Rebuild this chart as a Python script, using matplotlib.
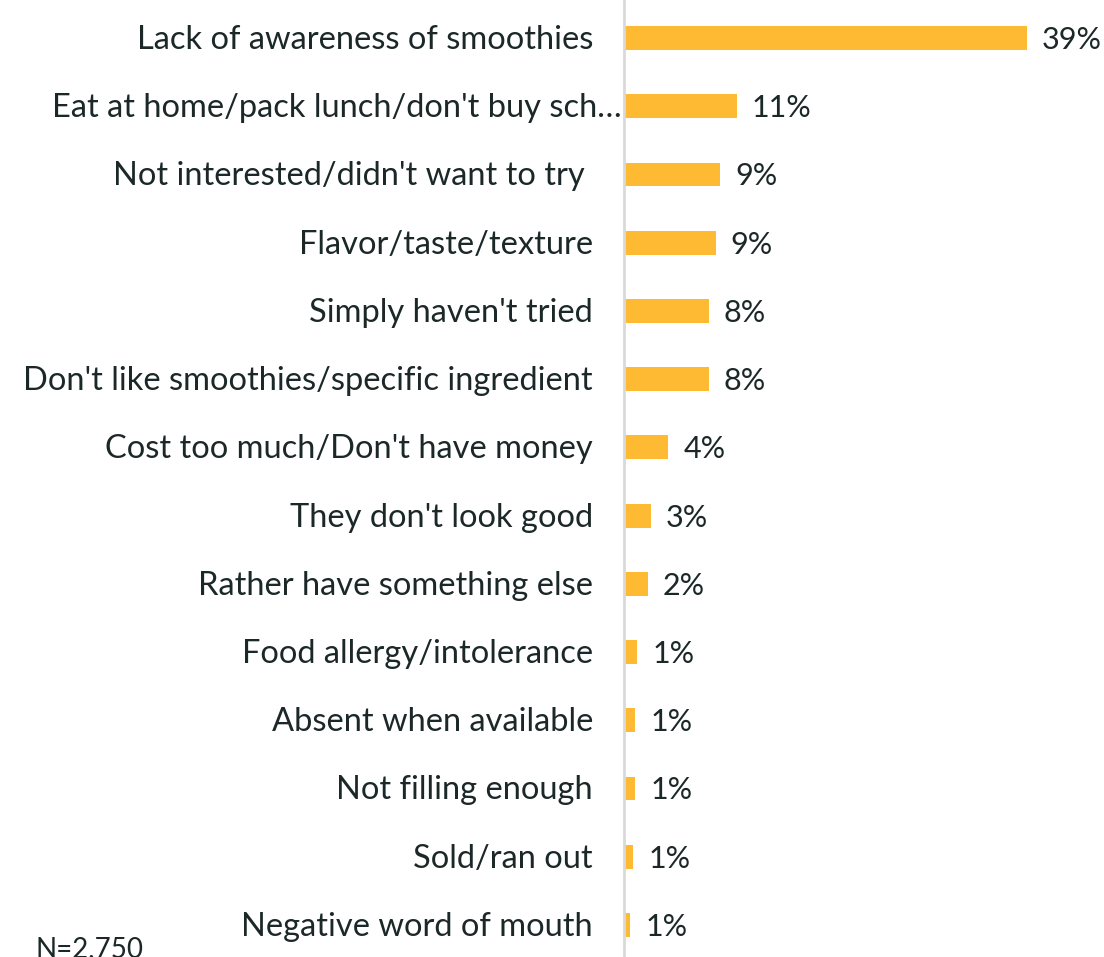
import matplotlib.pyplot as plt
from matplotlib.transforms import offset_copy, blended_transform_factory

reasons = [
    "Lack of awareness of smoothies",
    "Eat at home/pack lunch/don't buy sch\u2026",
    "Not interested/didn't want to try ",
    "Flavor/taste/texture",
    "Simply haven't tried",
    "Don't like smoothies/specific ingredient",
    "Cost too much/Don't have money",
    "They don't look good",
    "Rather have something else",
    "Food allergy/intolerance",
    "Absent when available",
    "Not filling enough",
    "Sold/ran out",
    "Negative word of mouth",
]
shares = [39.0, 10.9, 9.3, 8.9, 8.2, 8.2, 4.3, 2.6, 2.3, 1.3, 1.1, 1.1, 0.9, 0.6]
sample_note = "N=2,750"

bar_color = "#FFBA33"
text_color = "#1C2828"

plt.rcParams["font.family"] = ["Lato", "DejaVu Sans"]

fig = plt.figure(figsize=(11.04, 9.57), dpi=100)
ax = fig.add_axes([624 / 1104, 0, 480 / 1104, 1])

ypos = list(range(len(reasons)))
ax.barh(ypos, shares, height=0.35, color=bar_color)
ax.set_xlim(0, 46.5)
ax.set_ylim(13.47, -0.557)

for s in ["top", "right", "bottom"]:
    ax.spines[s].set_visible(False)
ax.spines["left"].set_color("#D9D9D9")
ax.spines["left"].set_linewidth(2)
ax.set_xticks([])
ax.set_yticks([])

# category names, right aligned left of the axis line
lab_tf = blended_transform_factory(ax.transAxes, ax.transData)
for y, name in zip(ypos, reasons):
    pad = -2 if name.endswith("\u2026") else -31
    ax.text(0, y, name, transform=offset_copy(lab_tf, fig=fig, x=pad, y=-2, units="dots"),
            ha="right", va="center", fontsize=23.5, color=text_color)

# value labels after each bar
for y, v in zip(ypos, shares):
    ax.text(v, y, f"{v:.0f}%", transform=offset_copy(ax.transData, fig=fig, x=15, y=-2, units="dots"),
            ha="left", va="center", fontsize=22, color=text_color)

fig.text(36 / 1104, -0.005, sample_note, ha="left", va="bottom", fontsize=20, color=text_color)

fig.savefig("out.png", dpi=100)
